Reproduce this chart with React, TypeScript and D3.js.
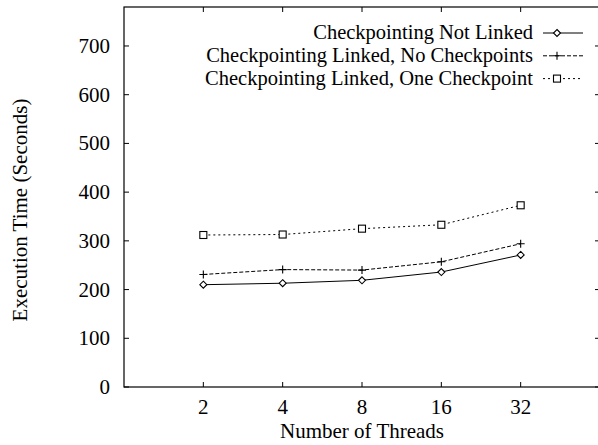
import React from 'react';
import * as d3 from 'd3';

const threads = ['2', '4', '8', '16', '32'];
const notLinked = [210, 213, 219, 236, 271];
const linkedNoCkpt = [231, 241, 240, 257, 294];
const linkedOneCkpt = [312, 313, 325, 333, 373];
const yTicks = [0, 100, 200, 300, 400, 500, 600, 700];

const seriesNames = [
    'Checkpointing Not Linked',
    'Checkpointing Linked, No Checkpoints',
    'Checkpointing Linked, One Checkpoint'
];

const width = 598;
const height = 445;
const margin = { top: 7, right: -2, bottom: 58, left: 124 };
const innerWidth = width - margin.left - margin.right;
const innerHeight = height - margin.top - margin.bottom;
const fs = 21;
const legendFs = 20.5;
const fontStyle = { fontFamily: "'Liberation Serif', 'Times New Roman', serif" };

// categories sit at 1..5 on a 0..6 index domain
const x = d3.scaleLinear().domain([0, 6]).range([0, innerWidth]);
const y = d3.scaleLinear().domain([0, 780]).range([innerHeight, 0]);

const line = d3.line<number>()
    .x((_, i) => x(i + 1))
    .y(d => y(d));

const series = [
    { name: seriesNames[0], values: notLinked, dash: undefined as string | undefined, marker: 'diamond' },
    { name: seriesNames[1], values: linkedNoCkpt, dash: '4,2', marker: 'plus' },
    { name: seriesNames[2], values: linkedOneCkpt, dash: '2,3', marker: 'square' }
];

const Marker: React.FC<{ kind: string; cx: number; cy: number }> = ({ kind, cx, cy }) => {
    if (kind === 'diamond') {
        return <path d={`M${cx},${cy - 3.5}L${cx + 3.5},${cy}L${cx},${cy + 3.5}L${cx - 3.5},${cy}Z`}
            fill="#fff" stroke="#000" strokeWidth={1.1} />;
    }
    if (kind === 'plus') {
        return <path d={`M${cx - 4},${cy}H${cx + 4}M${cx},${cy - 4}V${cy + 4}`}
            stroke="#000" strokeWidth={1.1} />;
    }
    return <rect x={cx - 3.5} y={cy - 3.5} width={7} height={7}
        fill="#fff" stroke="#000" strokeWidth={1.1} />;
};

const App: React.FC = () => (
    <svg width={width} height={height} style={{ position: 'absolute', left: 0, top: 0, display: 'block', ...fontStyle }}>
        <rect width={width} height={height} fill="#fff" />
        <g transform={`translate(${margin.left},${margin.top})`}>
            <rect x={0} y={0} width={innerWidth} height={innerHeight}
                fill="none" stroke="#000" strokeWidth={1.2} />

            {/* y ticks, mirrored on the right */}
            {yTicks.map(t => (
                <g key={`y${t}`}>
                    <line x1={0} x2={5} y1={y(t)} y2={y(t)} stroke="#000" />
                    <line x1={innerWidth} x2={innerWidth - 5} y1={y(t)} y2={y(t)} stroke="#000" />
                    <text x={-14} y={y(t) + 7} textAnchor="end" fontSize={fs} style={fontStyle}>{t}</text>
                </g>
            ))}

            {/* x ticks, mirrored on top */}
            {threads.map((t, i) => (
                <g key={`x${t}`}>
                    <line x1={x(i + 1)} x2={x(i + 1)} y1={innerHeight} y2={innerHeight - 5} stroke="#000" />
                    <line x1={x(i + 1)} x2={x(i + 1)} y1={0} y2={5} stroke="#000" />
                    <text x={x(i + 1)} y={innerHeight + 27} textAnchor="middle" fontSize={fs} style={fontStyle}>{t}</text>
                </g>
            ))}

            {series.map(s => (
                <g key={s.name}>
                    <path d={line(s.values) as string} fill="none" stroke="#000" strokeWidth={1}
                        strokeDasharray={s.dash} />
                    {s.values.map((v, i) => <Marker key={i} kind={s.marker} cx={x(i + 1)} cy={y(v)} />)}
                </g>
            ))}
        </g>

        <text x={362} y={438} textAnchor="middle" fontSize={fs} style={fontStyle}>Number of Threads</text>
        <text transform="translate(27,210) rotate(-90)" textAnchor="middle" fontSize={fs} style={fontStyle}>
            Execution Time (Seconds)
        </text>

        {/* legend */}
        {series.map((s, i) => {
            const ly = 33 + i * 22.8;
            return (
                <g key={`lg${i}`}>
                    <text x={533} y={ly + 6} textAnchor="end" fontSize={legendFs} style={fontStyle}>{s.name}</text>
                    <line x1={543} x2={583} y1={ly} y2={ly} stroke="#000" strokeWidth={1} strokeDasharray={s.dash} />
                    <Marker kind={s.marker} cx={557} cy={ly} />
                </g>
            );
        })}
    </svg>
);

export default App;
